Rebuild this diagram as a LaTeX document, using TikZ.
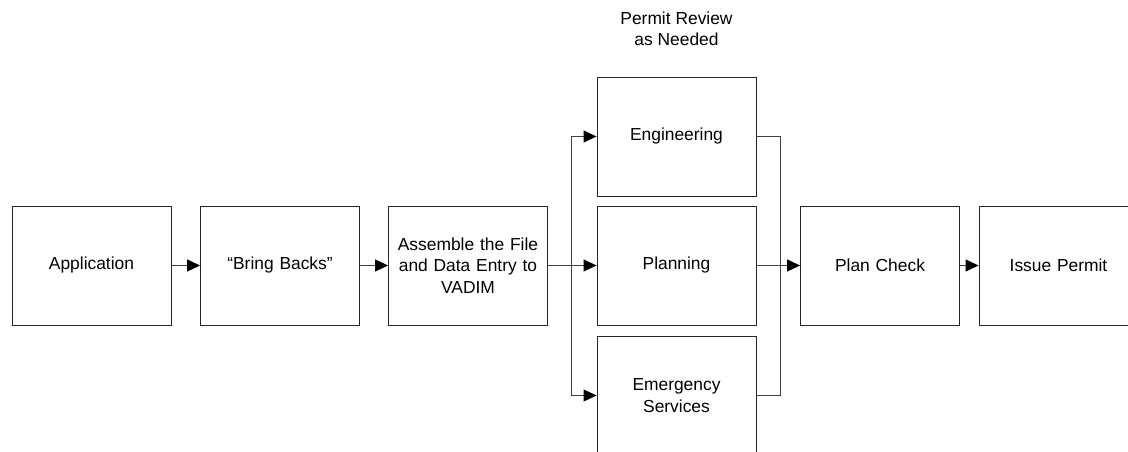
\documentclass[tikz,border=0pt]{standalone}
\usepackage{fontspec}
\setmainfont{Liberation Sans}
\usetikzlibrary{arrows.meta}
\begin{document}
\begin{tikzpicture}[x=1pt,y=-1pt,
  stepbox/.style={draw=black!85, line width=0.9pt, minimum width=159pt, minimum height=119pt,
    inner sep=0pt, text width=155pt, align=center, font=\fontsize{17.4}{21.5}\selectfont},
  caption/.style={align=center, font=\fontsize{17.4}{21.5}\selectfont},
  link/.style={draw=black!75, line width=1pt},
  arr/.style={link, -{Triangle[length=13pt,width=12pt,color=black]}}]
\useasboundingbox (0,0) rectangle (1128,452);

% process steps
\node[stepbox] (app)      at (91.5,265.5)  {Application};
\node[stepbox] (bring)    at (280,265.5)   {“Bring Backs”};
\node[stepbox] (assemble) at (468,265.5)   {Assemble the File\\and Data Entry to\\VADIM};
\node[stepbox] (eng)      at (676.5,136.5) {Engineering};
\node[stepbox] (plan)     at (676.5,265.5) {Planning};
\node[stepbox] (emerg)    at (676.5,395.5) {Emergency\\Services};
\node[stepbox] (check)    at (880,265.5)   {Plan Check};
\node[stepbox] (issue)    at (1058.5,265.5){Issue Permit};
\node[caption] (review)   at (676.5,29)    {Permit Review\\as Needed};

% flow
\draw[arr] (app) -- (bring);
\draw[arr] (bring) -- (assemble);
\coordinate (split) at (571,265.5);
\draw[link] (assemble.east) -- (split);
\draw[arr] (split) |- (eng.west);
\draw[arr] (split) -- (plan.west);
\draw[arr] (split) |- (emerg.west);
\coordinate (join) at (780,265.5);
\draw[link] (eng.east) -| (join);
\draw[link] (emerg.east) -| (join);
\draw[arr] (plan.east) -- (check.west);
\draw[arr] (check) -- (issue);
\end{tikzpicture}
\end{document}
